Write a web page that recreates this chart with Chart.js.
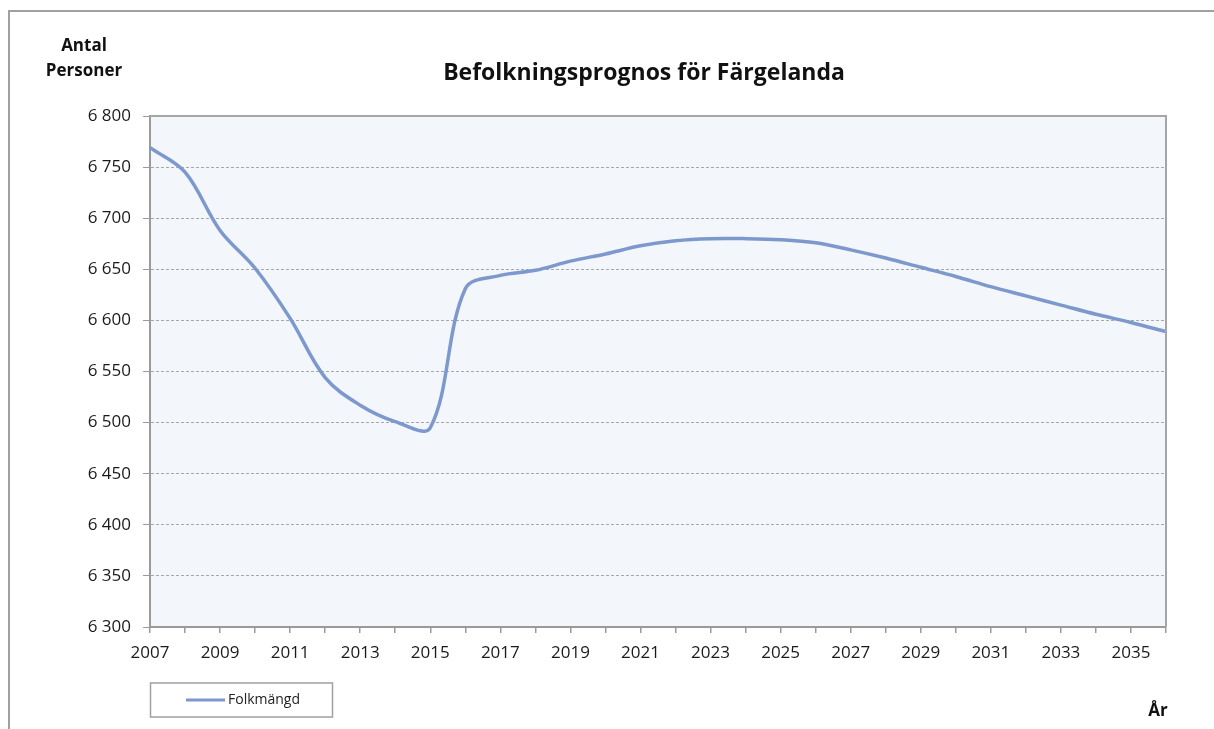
<!DOCTYPE html>
<html>
<head>
<meta charset="utf-8">
<title>Befolkningsprognos för Färgelanda</title>
<script src="https://cdn.jsdelivr.net/npm/chart.js@4.4.1/dist/chart.umd.min.js"></script>
<style>
    html, body { margin: 0; padding: 0; background: #fff; }
    #wrap { position: relative; width: 1214px; height: 729px; }
</style>
</head>
<body>
<div id="wrap"><canvas id="chart" width="1214" height="729"></canvas></div>
<script>
// Data
const years = [
    '2007', '2008', '2009', '2010', '2011', '2012', '2013', '2014', '2015', '2016',
    '2017', '2018', '2019', '2020', '2021', '2022', '2023', '2024', '2025', '2026',
    '2027', '2028', '2029', '2030', '2031', '2032', '2033', '2034', '2035', '2036'
];
const folkmangd = [
    6769, 6745, 6688, 6651, 6602, 6544, 6517, 6501, 6495, 6631,
    6644, 6649, 6658, 6665, 6673, 6678, 6680, 6680, 6679, 6676,
    6669, 6661, 6652, 6643, 6633, 6624, 6615, 6606, 6598, 6589
];
const yMin = 6300;
const yMax = 6800;
const yStep = 50;

// Texts
const chartTitle = 'Befolkningsprognos för Färgelanda';
const yTitleLines = ['Antal', 'Personer'];
const xTitle = 'År';
const seriesLabel = 'Folkmängd';

// Look
const FONT = '"Open Sans", Lato, sans-serif';
const LINE_COLOR = '#7D98CC';
const PLOT_BG = '#F3F6FB';
const AXIS_GREY = '#9a9a9a';

/**
 * Format 6800 -> "6 800" (Swedish thousands separator)
 */
function formatThousands(value) {
    const s = String(Math.round(value));
    return s.length > 3 ? s.slice(0, -3) + ' ' + s.slice(-3) : s;
}

/**
 * Excel-look decorations: outer frame, plot background/border,
 * title, axis titles and the boxed legend
 */
const excelLook = {
    id: 'excelLook',
    beforeDraw(chart) {
        const { ctx, chartArea: a } = chart;
        ctx.save();
        ctx.fillStyle = '#fff';
        ctx.fillRect(0, 0, chart.width, chart.height);

        // outer frame (only top and left visible)
        ctx.strokeStyle = '#a0a0a0';
        ctx.lineWidth = 2;
        ctx.beginPath();
        ctx.moveTo(9, chart.height);
        ctx.lineTo(9, 11);
        ctx.lineTo(chart.width, 11);
        ctx.stroke();

        // plot area fill
        ctx.fillStyle = PLOT_BG;
        ctx.fillRect(a.left, a.top, a.right - a.left, a.bottom - a.top);
        ctx.restore();
    },
    afterDraw(chart) {
        const { ctx, chartArea: a } = chart;
        ctx.save();

        // plot border top + right
        ctx.strokeStyle = '#a6a6a6';
        ctx.lineWidth = 2;
        ctx.beginPath();
        ctx.moveTo(a.left, a.top);
        ctx.lineTo(a.right, a.top);
        ctx.lineTo(a.right, a.bottom);
        ctx.stroke();

        ctx.fillStyle = '#111';
        ctx.textAlign = 'center';
        ctx.textBaseline = 'middle';

        // title
        ctx.font = 'bold 23px ' + FONT;
        ctx.fillText(chartTitle, 644, 73);

        // y axis title, two lines
        ctx.font = 'bold 17px ' + FONT;
        ctx.fillText(yTitleLines[0], 84, 46);
        ctx.fillText(yTitleLines[1], 84, 71);

        // x axis title
        ctx.fillText(xTitle, 1158, 711);

        // legend box
        const ds = chart.data.datasets[0];
        ctx.strokeStyle = '#a0a0a0';
        ctx.lineWidth = 1.5;
        ctx.strokeRect(150.5, 683, 182, 34);
        ctx.strokeStyle = ds.borderColor;
        ctx.lineWidth = 3;
        ctx.beginPath();
        ctx.moveTo(186, 700);
        ctx.lineTo(225, 700);
        ctx.stroke();
        ctx.fillStyle = '#222';
        ctx.font = '14px ' + FONT;
        ctx.textAlign = 'left';
        ctx.fillText(ds.label, 228, 700);

        ctx.restore();
    }
};

function initChart() {
    const ctx = document.getElementById('chart').getContext('2d');

    new Chart(ctx, {
        type: 'line',
        data: {
            labels: years,
            datasets: [{
                label: seriesLabel,
                data: folkmangd,
                borderColor: LINE_COLOR,
                backgroundColor: LINE_COLOR,
                borderWidth: 3.5,
                pointRadius: 0,
                tension: 0.35,
                fill: false
            }]
        },
        options: {
            responsive: false,
            animation: false,
            layout: {
                padding: { left: 0, top: 116, right: 48, bottom: 0 }
            },
            plugins: {
                legend: { display: false },
                title: { display: false },
                tooltip: { enabled: false }
            },
            scales: {
                x: {
                    type: 'category',
                    offset: false,
                    afterFit: (scale) => { scale.height = 102; },
                    grid: {
                        drawOnChartArea: false,
                        drawTicks: true,
                        tickLength: 6,
                        tickColor: AXIS_GREY,
                        lineWidth: 1.5
                    },
                    border: { color: AXIS_GREY, width: 2 },
                    ticks: {
                        autoSkip: false,
                        maxRotation: 0,
                        padding: 10,
                        color: '#1a1a1a',
                        font: { family: FONT, size: 17 },
                        callback: function (value, index) {
                            return index % 2 === 0 ? this.getLabelForValue(value) : '';
                        }
                    }
                },
                y: {
                    min: yMin,
                    max: yMax,
                    afterFit: (scale) => { scale.width = 150; },
                    grid: {
                        color: '#a8a8a8',
                        lineWidth: 1,
                        tickLength: 7,
                        tickColor: AXIS_GREY,
                        tickBorderDash: []
                    },
                    border: { color: AXIS_GREY, width: 2, dash: [3, 2] },
                    ticks: {
                        stepSize: yStep,
                        padding: 12,
                        color: '#1a1a1a',
                        font: { family: FONT, size: 17 },
                        callback: (v) => formatThousands(v)
                    }
                }
            }
        },
        plugins: [excelLook]
    });
}

document.addEventListener('DOMContentLoaded', initChart);
</script>
</body>
</html>
